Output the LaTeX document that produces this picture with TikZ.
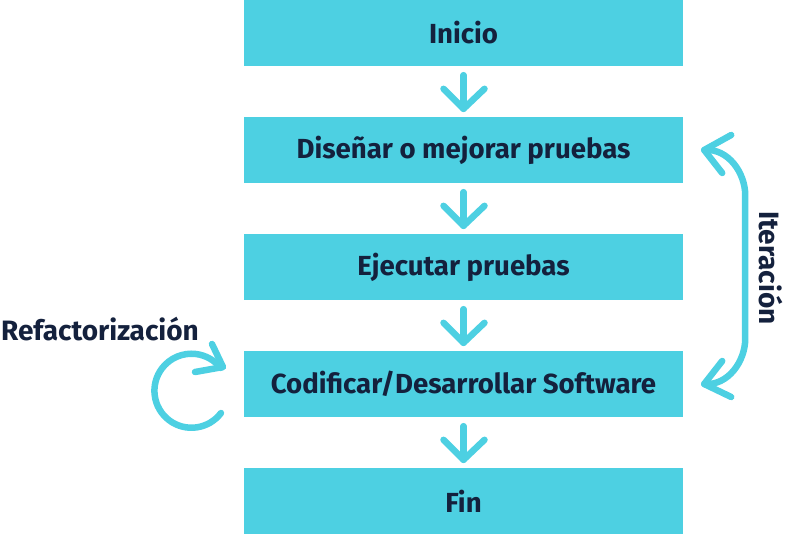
\documentclass[tikz,border=0pt]{standalone}
\usepackage{fontspec}
\setmainfont{Fira Sans}
\usetikzlibrary{calc}
\definecolor{boxc}{HTML}{4DD0E2}
\definecolor{txt}{HTML}{14213D}
\begin{document}
\begin{tikzpicture}[x=1pt,y=-1pt,
  stepbox/.style={fill=boxc,draw=none,minimum width=439pt,minimum height=66pt,inner sep=0pt,
    font=\fontsize{27.6}{30}\selectfont\bfseries,text=txt},
  lbl/.style={font=\fontsize{28}{30}\selectfont\bfseries,text=txt,inner sep=0pt},
  conn/.style={draw=boxc,line width=6.5pt,line cap=round,line join=round}]
\useasboundingbox (0,0) rectangle (793,535);
\node[stepbox] (s1) at (463.5,33) {Inicio};
\node[stepbox] (s2) at (463.5,150) {Diseñar o mejorar pruebas};
\node[stepbox] (s3) at (463.5,267) {Ejecutar pruebas};
\node[stepbox] (s4) at (463.5,384) {Codificar/Desarrollar Software};
\node[stepbox] (s5) at (463.5,501) {Fin};
\foreach \a/\b in {s1/s2,s2/s3,s3/s4,s4/s5}{
  \draw[conn] ($(\a.south)+(0,9)$) -- ($(\b.north)+(0,-8)$);
  \draw[conn] ($(\b.north)+(-20,-28)$) -- ($(\b.north)+(0,-8)$) -- ($(\b.north)+(21,-28)$);
}
% Iteración
\coordinate (it1) at ($(s2.east)+(21,0)$);
\coordinate (it2) at ($(s4.east)+(21,0)$);
\coordinate (v1) at ($(s2.east)+(62,45)$);
\coordinate (v2) at ($(s4.east)+(62,-45)$);
\draw[conn] (it1) .. controls +(24,-2) and +(0,-22) .. (v1)
  -- (v2) .. controls +(0,22) and +(24,2) .. (it2);
\draw[conn] ($(it1)+(27,-15)$) -- (it1) -- ($(it1)+(18,23)$);
\draw[conn] ($(it2)+(18,-23)$) -- (it2) -- ($(it2)+(27,13)$);
\node[lbl,rotate=-90] (itl) at (771,268) {Iteración};
% Refactorización
\node[lbl] (rl) at (100,329) {Refactorización};
\coordinate (ra) at (221,413);
\draw[conn] (ra) arc[start angle=37,end angle=322,radius=37];
\coordinate (rt) at (223,367);
\draw[conn] (212,344) -- (rt) -- (195,372);
\end{tikzpicture}
\end{document}
